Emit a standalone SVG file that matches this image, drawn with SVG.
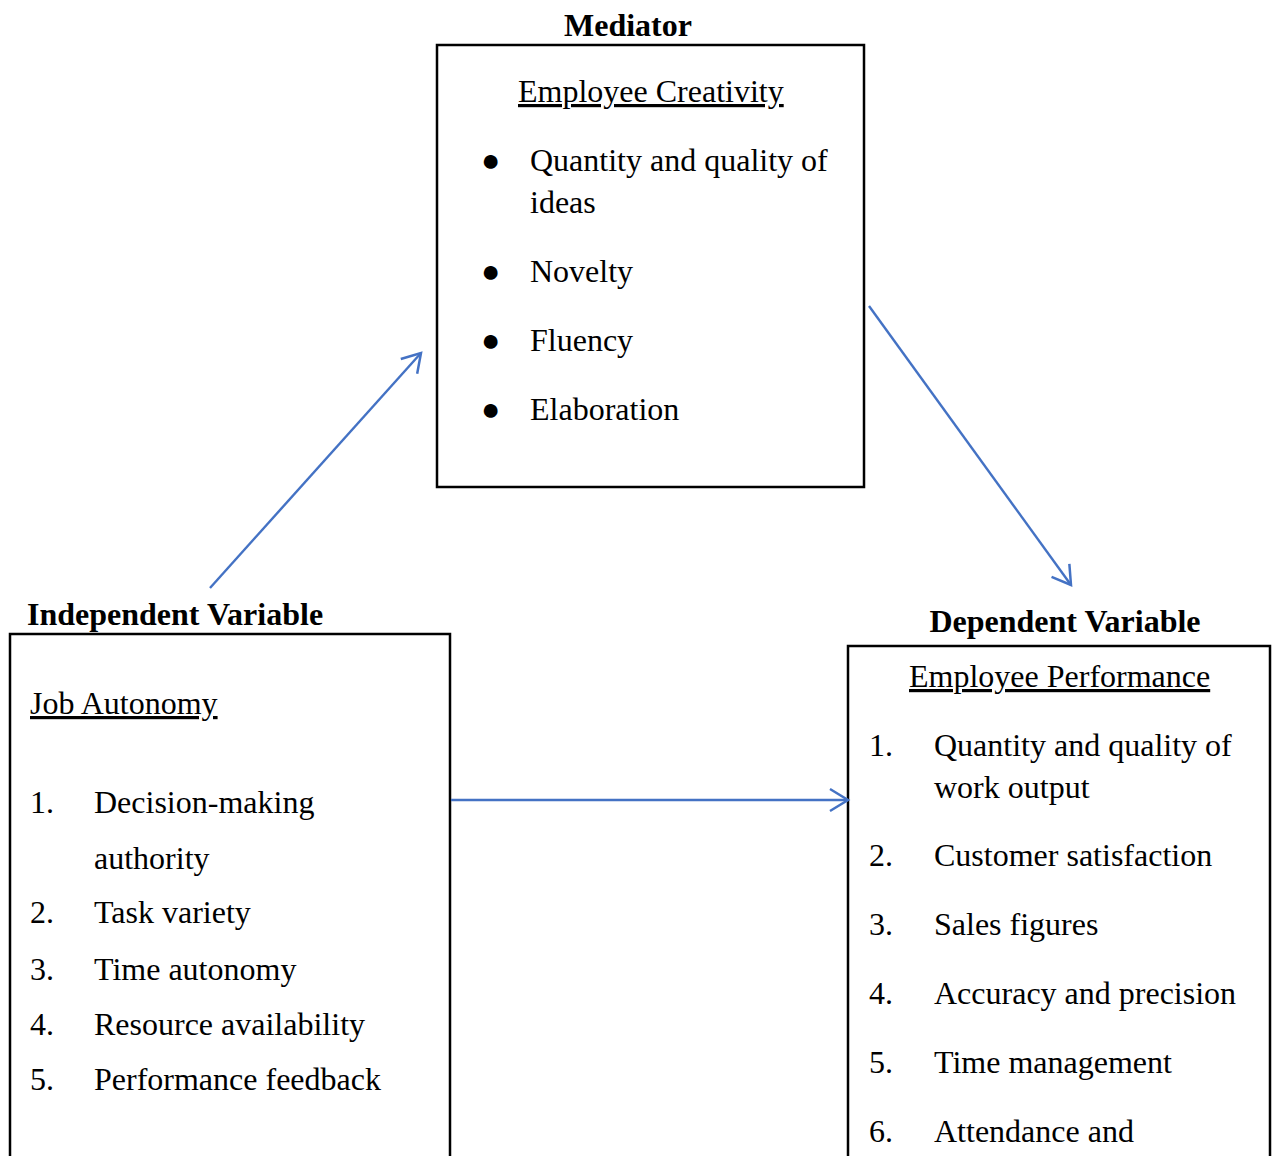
<svg xmlns="http://www.w3.org/2000/svg" width="1273" height="1156" viewBox="0 0 1273 1156">
<defs>
<marker id="ah" viewBox="0 0 24 26" refX="21" refY="13" markerWidth="24" markerHeight="26" markerUnits="userSpaceOnUse" orient="auto">
<path d="M3,2 L21,13 L3,24" fill="none" stroke="#4472C4" stroke-width="2.5"/>
</marker>
<style>
.box{fill:#fff;stroke:#000;stroke-width:2.5}
.t{font-family:"Liberation Serif","Times New Roman",serif;font-size:32px;fill:#000}
.h{font-family:"Liberation Serif","Times New Roman",serif;font-size:32px;font-weight:bold;fill:#000}
.u{text-decoration:underline}
.c{fill:none;stroke:#4472C4;stroke-width:2.4}
</style>
</defs>
<rect width="1273" height="1156" fill="#fff"/>
<g id="mediator">
<text class="h" x="628" y="36" text-anchor="middle">Mediator</text>
<rect class="box" x="437" y="45" width="427" height="442"/>
<text class="t u" x="518" y="102">Employee Creativity</text>
<text class="t" x="481" y="171">●</text><text class="t" x="530" y="171">Quantity and quality of</text>
<text class="t" x="530" y="213">ideas</text>
<text class="t" x="481" y="282">●</text><text class="t" x="530" y="282">Novelty</text>
<text class="t" x="481" y="351">●</text><text class="t" x="530" y="351">Fluency</text>
<text class="t" x="481" y="420">●</text><text class="t" x="530" y="420">Elaboration</text>
</g>
<g id="independent">
<text class="h" x="27" y="625">Independent Variable</text>
<rect class="box" x="10" y="634" width="440" height="540"/>
<text class="t u" x="30" y="714">Job Autonomy</text>
<text class="t" x="30" y="813">1.</text><text class="t" x="94" y="813">Decision-making</text>
<text class="t" x="94" y="869">authority</text>
<text class="t" x="30" y="923">2.</text><text class="t" x="94" y="923">Task variety</text>
<text class="t" x="30" y="980">3.</text><text class="t" x="94" y="980">Time autonomy</text>
<text class="t" x="30" y="1035">4.</text><text class="t" x="94" y="1035">Resource availability</text>
<text class="t" x="30" y="1090">5.</text><text class="t" x="94" y="1090">Performance feedback</text>
</g>
<g id="dependent">
<text class="h" x="1065" y="632" text-anchor="middle">Dependent Variable</text>
<rect class="box" x="848" y="646" width="422" height="530"/>
<text class="t u" x="909" y="687">Employee Performance</text>
<text class="t" x="869" y="756">1.</text><text class="t" x="934" y="756">Quantity and quality of</text>
<text class="t" x="934" y="798">work output</text>
<text class="t" x="869" y="866">2.</text><text class="t" x="934" y="866">Customer satisfaction</text>
<text class="t" x="869" y="935">3.</text><text class="t" x="934" y="935">Sales figures</text>
<text class="t" x="869" y="1004">4.</text><text class="t" x="934" y="1004">Accuracy and precision</text>
<text class="t" x="869" y="1073">5.</text><text class="t" x="934" y="1073">Time management</text>
<text class="t" x="869" y="1142">6.</text><text class="t" x="934" y="1142">Attendance and</text>
</g>
<g id="connectors">
<line class="c" x1="210" y1="588" x2="421" y2="353" marker-end="url(#ah)"/>
<line class="c" x1="869" y1="306" x2="1071" y2="585" marker-end="url(#ah)"/>
<line class="c" x1="451" y1="800" x2="848" y2="800" marker-end="url(#ah)"/>
</g>
</svg>
